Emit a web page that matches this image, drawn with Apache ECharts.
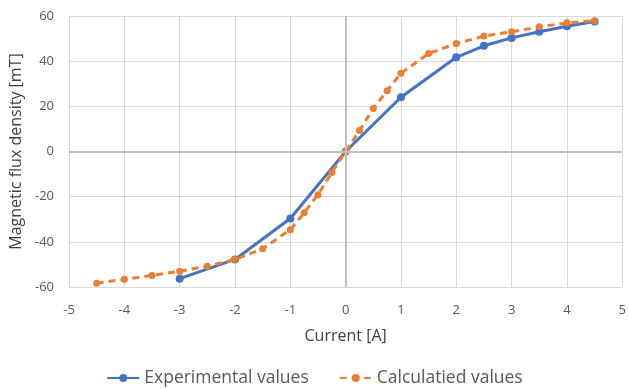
<!DOCTYPE html>
<html>
<head>
<meta charset="utf-8">
<script src="https://cdn.jsdelivr.net/npm/echarts@6/dist/echarts.min.js"></script>
<style>
  html, body { margin: 0; padding: 0; background: #fff; }
  #chart { width: 629px; height: 389px; }
</style>
</head>
<body>
<div id="chart"></div>
<script>
// measured values
var expCurrent = [-3, -2, -1, 0, 1, 2, 2.5, 3, 3.5, 4, 4.5];
var expFlux = [-56.3, -47.8, -29.7, 0, 24.0, 41.7, 46.8, 50.3, 53.0, 55.5, 57.6];

// calculated values
var calcCurrent = [-4.5, -4, -3.5, -3, -2.5, -2, -1.5, -1, -0.75, -0.5, -0.25, 0,
  0.25, 0.5, 0.75, 1, 1.5, 2, 2.5, 3, 3.5, 4, 4.5];
var calcFlux = [-58.3, -56.6, -54.9, -53.0, -50.8, -47.8, -43.1, -34.6, -27.1, -19.1, -9.3, 0,
  9.3, 19.0, 26.9, 34.7, 43.4, 47.8, 51.1, 53.0, 55.2, 57.0, 57.9];

function pairs(xs, ys) {
  return xs.map(function (x, i) { return [x, ys[i]]; });
}

var font = "Open Sans";
var myChart = echarts.init(document.getElementById("chart"));
var option = {
  backgroundColor: "#fff",
  animation: false,
  grid: { left: 69, right: 2, top: 16, bottom: 102 },
  legend: {
    data: ["Experimental values", "Calculatied values"],
    top: 364,
    left: "center",
    itemWidth: 32,
    itemHeight: 10,
    itemGap: 30,
    textStyle: { color: "#595959", fontSize: 17.5, fontFamily: font }
  },
  xAxis: {
    type: "value",
    min: -5,
    max: 5,
    interval: 1,
    name: "Current [A]",
    nameLocation: "middle",
    nameGap: 41,
    nameTextStyle: { color: "#404040", fontSize: 16, fontFamily: font },
    axisLine: { show: false },
    axisTick: { show: false },
    axisLabel: { color: "#595959", fontSize: 13, fontFamily: font, margin: 17 },
    splitLine: { lineStyle: { color: "#d9d9d9", width: 1 } }
  },
  yAxis: {
    type: "value",
    min: -60,
    max: 60,
    interval: 20,
    name: "Magnetic flux density [mT]",
    nameLocation: "middle",
    nameGap: 42,
    nameTextStyle: { color: "#404040", fontSize: 16, fontFamily: font },
    axisLine: { show: false },
    axisTick: { show: false },
    axisLabel: { color: "#595959", fontSize: 13, fontFamily: font, margin: 15 },
    splitLine: { lineStyle: { color: "#d9d9d9", width: 1 } }
  },
  series: [
    {
      name: "zero",
      type: "line",
      data: [],
      z: 1,
      markLine: {
        silent: true,
        symbol: "none",
        label: { show: false },
        lineStyle: { color: "#bfbfbf", width: 2, type: "solid" },
        data: [{ xAxis: 0 }, { yAxis: 0 }]
      }
    },
    {
      name: "Experimental values",
      type: "line",
      data: pairs(expCurrent, expFlux),
      z: 3,
      symbol: "circle",
      symbolSize: 8,
      color: "#4472c4",
      lineStyle: { width: 3, color: "#4472c4" },
      itemStyle: { color: "#4472c4" }
    },
    {
      name: "Calculatied values",
      type: "line",
      data: pairs(calcCurrent, calcFlux),
      z: 4,
      symbol: "circle",
      symbolSize: 7,
      color: "#ed7d31",
      lineStyle: { width: 3, color: "#ed7d31", type: [7, 5] },
      itemStyle: { color: "#ed7d31" }
    }
  ]
};
myChart.setOption(option);
</script>
</body>
</html>
